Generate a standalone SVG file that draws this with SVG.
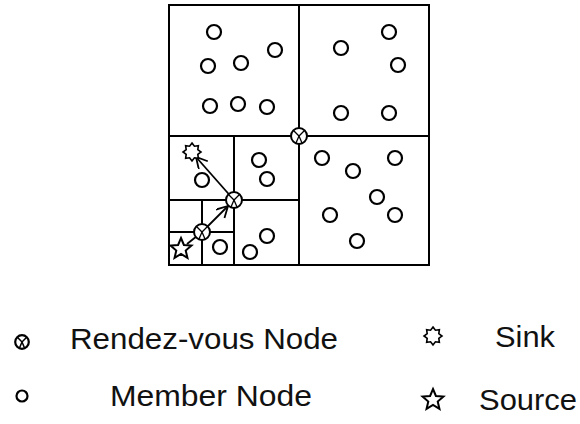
<svg xmlns="http://www.w3.org/2000/svg" xmlns:xlink="http://www.w3.org/1999/xlink" width="580" height="424" viewBox="0 0 580 424">
<style>
.grid{fill:none;stroke:#000;stroke-width:2}
.m{fill:#fff;stroke:#000;stroke-width:2.2}
.rv{fill:#fff;stroke:#000;stroke-width:2}
.rvx{stroke:#000;stroke-width:1.3;fill:none}
.star{fill:#fff;stroke:#000;stroke-width:1.8;stroke-linejoin:miter}
.conn{stroke:#000;stroke-width:1.8;fill:none}
.lbl{font-family:"Liberation Sans",Arial,sans-serif;font-size:29px;fill:#111}
</style>
<defs>
<marker id="arr" markerUnits="userSpaceOnUse" markerWidth="16" markerHeight="14" refX="12" refY="6" orient="auto">
<path d="M1,0 L12,6 L1,12" fill="none" stroke="#000" stroke-width="1.8"/>
</marker>
<polygon id="star5" points="0,-10 2.645,-3.641 9.511,-3.09 4.28,1.391 5.878,8.09 0,4.5 -5.878,8.09 -4.28,1.391 -9.511,-3.09 -2.645,-3.641"/>
<polygon id="star8" points="0,-10 2.679,-6.467 7.071,-7.071 6.467,-2.679 10,0 6.467,2.679 7.071,7.071 2.679,6.467 0,10 -2.679,6.467 -7.071,7.071 -6.467,2.679 -10,0 -6.467,-2.679 -7.071,-7.071 -2.679,-6.467"/>
<g id="rvsym">
<circle r="8" class="rv"/>
<path class="rvx" d="M-5.5,-5.5 L0,0 L5.5,-5.5 M0,0 L-3,7 M0,0 L3,7"/>
</g>
</defs>
<g id="regions">
<rect class="grid" x="169" y="5" width="260" height="260"/>
<path class="grid" d="M299,5 V265 M169,136 H429 M234,136 V265 M169,200 H299 M202,200 V265 M169,232 H234"/>
</g>
<g id="connectors">
<line class="conn" x1="187" y1="244" x2="202" y2="232"/>
<line class="conn" x1="202" y1="232" x2="228" y2="206" marker-end="url(#arr)"/>
<line class="conn" x1="234" y1="200" x2="196" y2="157" marker-end="url(#arr)"/>
</g>
<g id="members">
<circle class="m" cx="214" cy="32" r="7"/>
<circle class="m" cx="275" cy="50" r="7"/>
<circle class="m" cx="208" cy="66" r="7"/>
<circle class="m" cx="241" cy="63" r="7"/>
<circle class="m" cx="210" cy="106" r="7"/>
<circle class="m" cx="238" cy="104" r="7"/>
<circle class="m" cx="267" cy="107" r="7"/>
<circle class="m" cx="341" cy="48" r="7"/>
<circle class="m" cx="389" cy="32" r="7"/>
<circle class="m" cx="398" cy="65" r="7"/>
<circle class="m" cx="341" cy="113" r="7"/>
<circle class="m" cx="389" cy="113" r="7"/>
<circle class="m" cx="322" cy="158" r="7"/>
<circle class="m" cx="353" cy="171" r="7"/>
<circle class="m" cx="395" cy="158" r="7"/>
<circle class="m" cx="377" cy="197" r="7"/>
<circle class="m" cx="330" cy="215" r="7"/>
<circle class="m" cx="395" cy="215" r="7"/>
<circle class="m" cx="357" cy="241" r="7"/>
<circle class="m" cx="259" cy="160" r="7"/>
<circle class="m" cx="267" cy="179" r="7"/>
<circle class="m" cx="202" cy="180" r="7"/>
<circle class="m" cx="267" cy="236" r="7"/>
<circle class="m" cx="250" cy="252" r="7"/>
<circle class="m" cx="220" cy="247" r="7"/>
</g>
<g id="rendezvous">
<use xlink:href="#rvsym" href="#rvsym" transform="translate(299,136)"/>
<use xlink:href="#rvsym" href="#rvsym" transform="translate(234,200)"/>
<use xlink:href="#rvsym" href="#rvsym" transform="translate(202,232)"/>
</g>
<g id="sink">
<use xlink:href="#star8" href="#star8" class="star" transform="translate(192,152) scale(0.9)"/>
</g>
<g id="source">
<use xlink:href="#star5" href="#star5" class="star" transform="translate(181,249) scale(1.1)"/>
</g>
<g id="legend">
<g transform="translate(22,342) scale(0.85)">
<circle r="8" fill="#fff" stroke="#000" stroke-width="2.6"/>
<path d="M-5.5,-5.5 L0,0 L5.5,-5.5 M0,0 L-3,7 M0,0 L3,7" fill="none" stroke="#000" stroke-width="1.8"/>
</g>
<text class="lbl" x="70" y="349" textLength="268" lengthAdjust="spacingAndGlyphs">Rendez-vous Node</text>
<circle class="m" cx="22" cy="396" r="5.5"/>
<text class="lbl" x="110" y="406" textLength="202" lengthAdjust="spacingAndGlyphs">Member Node</text>
<use xlink:href="#star8" href="#star8" class="star" transform="translate(433,336) scale(0.9)"/>
<text class="lbl" x="495" y="347" textLength="60" lengthAdjust="spacingAndGlyphs">Sink</text>
<use xlink:href="#star5" href="#star5" class="star" transform="translate(433,400) scale(1.1)"/>
<text class="lbl" x="479" y="410" textLength="98" lengthAdjust="spacingAndGlyphs">Source</text>
</g>
</svg>
